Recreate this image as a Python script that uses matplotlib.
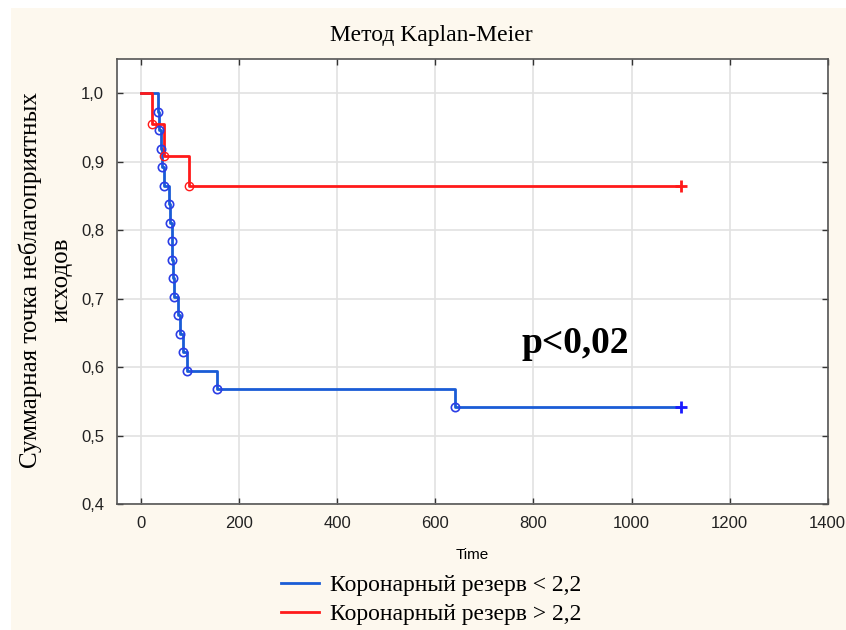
import matplotlib.pyplot as plt
from matplotlib.patches import Rectangle

# Kaplan-Meier data
t_low = [0, 34, 37, 40, 43, 46, 57, 59, 62, 63, 64, 67, 75, 80, 85, 93, 154, 640, 1100]
s_low = [1.0, 0.973, 0.946, 0.919, 0.892, 0.865, 0.838, 0.811, 0.784, 0.757, 0.730,
         0.703, 0.676, 0.649, 0.622, 0.595, 0.568, 0.541, 0.541]
t_high = [0, 23, 47, 98, 1100]
s_high = [1.0, 0.955, 0.909, 0.864, 0.864]

labels = ['Коронарный резерв < 2,2', 'Коронарный резерв > 2,2']
xticks = [0, 200, 400, 600, 800, 1000, 1200, 1400]
yticks = [0.4, 0.5, 0.6, 0.7, 0.8, 0.9, 1.0]

blue = '#1a5cd6'
blue_mk = '#2b3de6'
red = '#ff1a1a'
cream = '#fdf8ee'

fig = plt.figure(figsize=(8.46, 6.3), dpi=100)
fig.patch.set_facecolor('white')
fig.patches.append(Rectangle((11 / 846, 0), 1, 1 - 8 / 630, transform=fig.transFigure,
                             facecolor=cream, edgecolor='none', zorder=-10))

ax = fig.add_axes([116.7 / 846, 0.2, (827.7 - 116.7) / 846, (504 - 59) / 630])
ax.set_facecolor('white')

# step curves
ax.step(t_low, s_low, where='post', color=blue, lw=2.0, zorder=3)
ax.step(t_high, s_high, where='post', color=red, lw=2.0, zorder=4)

# event markers (open circles) and censored end (+)
ax.plot(t_low[1:-1], s_low[1:-1], 'o', ms=6, mfc='none', mec=blue_mk, mew=1.2, zorder=5)
ax.plot(t_high[1:-1], s_high[1:-1], 'o', ms=6, mfc='none', mec=red, mew=1.0, zorder=5)
ax.plot(t_low[-1], s_low[-1], '+', ms=8, mec='#1a1aff', mew=2, zorder=5)
ax.plot(t_high[-1], s_high[-1], '+', ms=8, mec=red, mew=2, zorder=5)

ax.set_xlim(-50, 1400)
ax.set_ylim(0.4, 1.05)
ax.set_xticks(xticks)
ax.set_yticks(yticks)
ax.set_yticklabels([f'{v:.1f}'.replace('.', ',') for v in yticks])
ax.grid(True, color='#e2e2e2', lw=1.2)
ax.set_axisbelow(True)
ax.tick_params(direction='in', top=True, right=True, length=4, width=1,
               labelsize=12, colors='#333333', labelcolor='#222222')
ax.tick_params(axis='x', pad=9)
ax.tick_params(axis='y', pad=9)
for sp in ax.spines.values():
    sp.set_color('#555555')
    sp.set_linewidth(1.2)

for lab in ax.get_xticklabels() + ax.get_yticklabels():
    lab.set_family('Liberation Sans')

ax.set_xlabel('Time', family='Liberation Sans', fontsize=11, labelpad=12)

ax.text(886, 0.634, 'p<0,02', family='Liberation Serif', fontweight='bold',
        fontsize=27, ha='center', va='center')

fig.text(431 / 846, 1 - 35 / 630, 'Метод Kaplan-Meier', family='Liberation Serif',
         fontsize=17, ha='center', va='center')
fig.text(30 / 846, 1 - 280 / 630, 'Суммарная точка неблагоприятных', family='Liberation Serif',
         fontsize=18, rotation=90, ha='center', va='center')
fig.text(62 / 846, 1 - 280 / 630, 'исходов', family='Liberation Serif',
         fontsize=18, rotation=90, ha='center', va='center')

h1, = ax.plot([], [], color=blue, lw=2)
h2, = ax.plot([], [], color=red, lw=2)
fig.legend([h1, h2], labels, loc='center left', bbox_to_anchor=(260 / 846, 1 - 600 / 630),
           frameon=False, prop={'family': 'Liberation Serif', 'size': 17},
           handlelength=1.6, handletextpad=0.45, labelspacing=0.3)

fig.savefig('out.png', dpi=100, facecolor=fig.get_facecolor())
